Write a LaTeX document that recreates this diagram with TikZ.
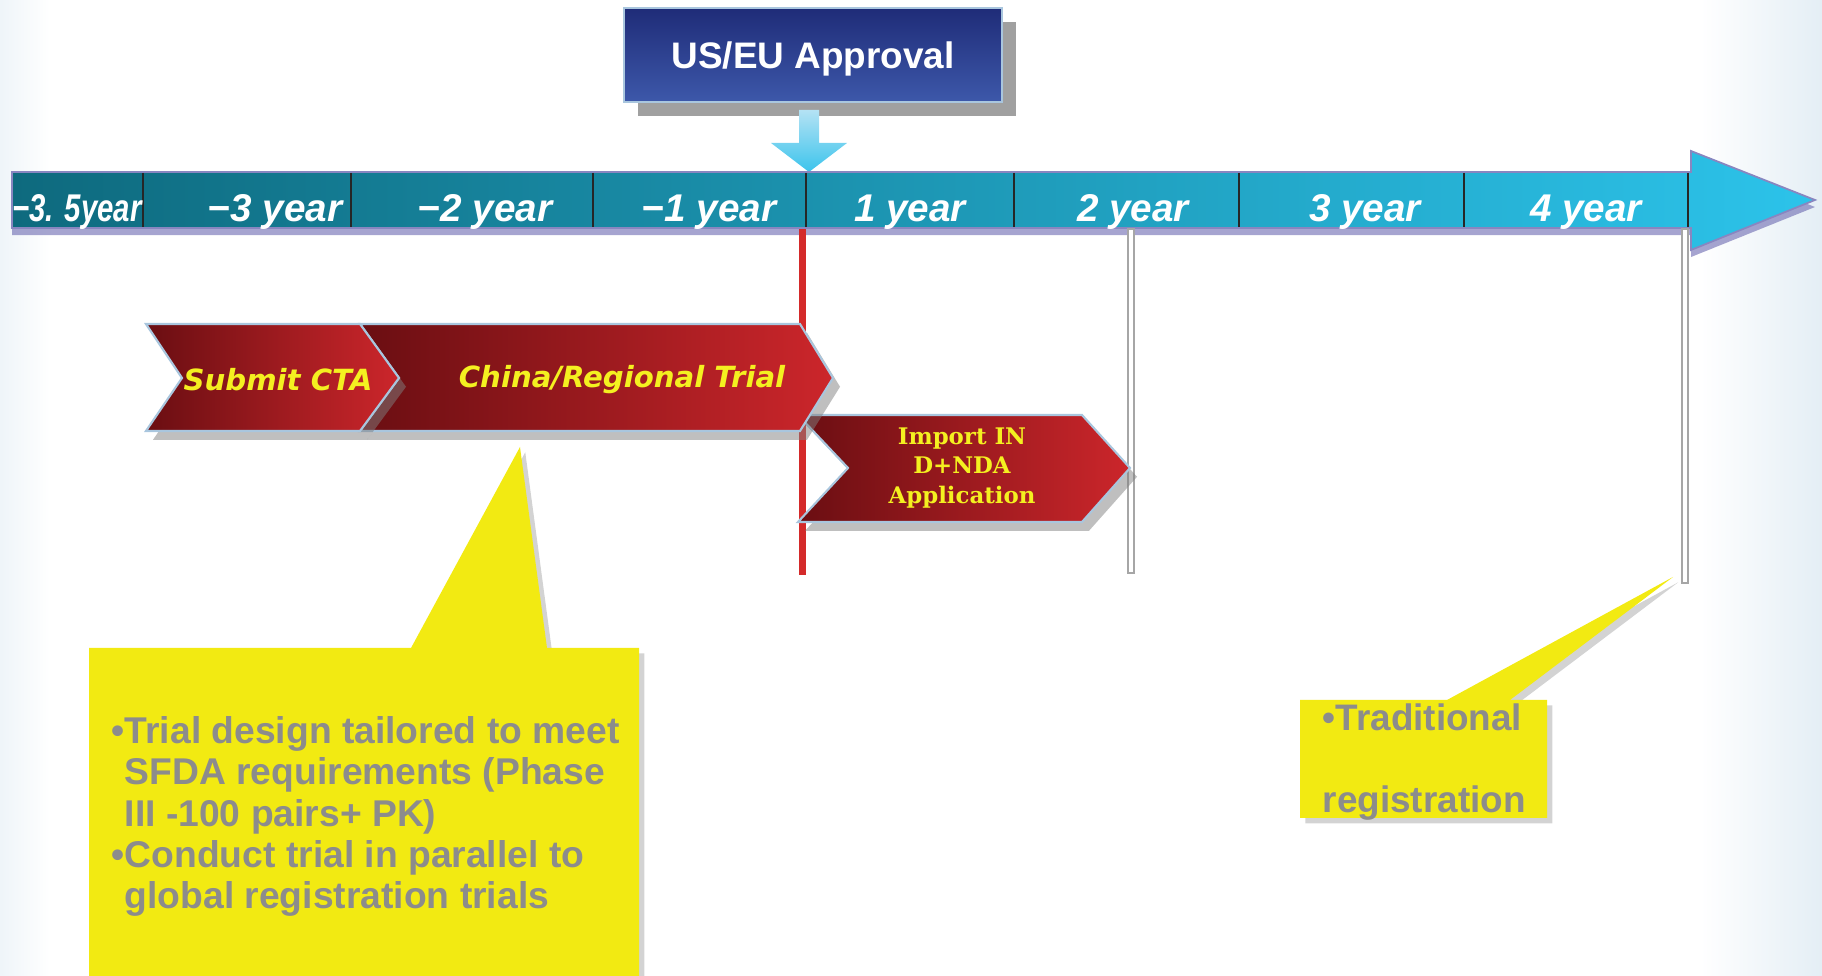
\documentclass[tikz,border=0pt]{standalone}
\usepackage{fontspec}
\setmainfont{Liberation Sans}
\newfontfamily\chevfont{DejaVu Sans}
\newfontfamily\impfont{DejaVu Serif}
\usetikzlibrary{shadows}
\definecolor{navytop}{HTML}{1F2C78}
\definecolor{navybot}{HTML}{3D58AA}
\definecolor{tealdark}{HTML}{0E6A7E}
\definecolor{cyanlite}{HTML}{2CC3EA}
\definecolor{reddark}{HTML}{6A0E12}
\definecolor{redlite}{HTML}{CC262B}
\definecolor{noteyellow}{HTML}{F2EA12}
\definecolor{notegray}{HTML}{8C8C8C}
\definecolor{chevtext}{HTML}{F4F020}
\definecolor{edgeblue}{HTML}{A9C6DE}
\definecolor{markred}{HTML}{D42A2A}
\definecolor{arrowtop}{HTML}{B4E2F4}
\definecolor{arrowbot}{HTML}{3CC4EC}
\definecolor{barshadow}{HTML}{6A68B0}
\definecolor{paleblue}{HTML}{E4EEF5}

\begin{document}
\begin{tikzpicture}[x=0.1mm,y=-0.1mm]
\useasboundingbox (0,0) rectangle (1822,976);
\begin{scope}
	\tikzstyle{every node}=[inner sep=0pt, align=center]
	\tikzstyle{chevron}=[left color=reddark, right color=redlite, draw=edgeblue, line width=0.6pt, drop shadow={shadow xshift=2pt, shadow yshift=-2.5pt, opacity=0.5}]
	\tikzstyle{yearlbl}=[text=white, font=\bfseries\itshape\fontsize{11}{13}\selectfont]
	\tikzstyle{chevlbl}=[text=chevtext, font=\chevfont\bfseries\itshape\fontsize{8.3}{10}\selectfont]
	\tikzstyle{note}=[fill=noteyellow, drop shadow={shadow xshift=1.5pt, shadow yshift=-1.5pt, opacity=0.35}]
	\tikzstyle{notetext}=[text=notegray, align=left, anchor=north west]
	\tikzstyle{yearline}=[draw=gray!70, fill=white, line width=0.5pt]

	\shade[left color=white, right color=paleblue] (1700,0) rectangle (1822,976);
	\shade[left color=paleblue!60, right color=white] (0,0) rectangle (50,976);

	\path[top color=navytop, bottom color=navybot, draw=edgeblue, line width=0.6pt, drop shadow={shadow xshift=4pt, shadow yshift=-4pt, opacity=0.75}] (624,8) rectangle (1002,102);
	\node[text=white, font=\bfseries\fontsize{10.5}{12}\selectfont] (approval) at (813,59) {US/EU Approval};
	\path[top color=arrowtop, bottom color=arrowbot] (799,110) -- (819,110) -- (819,143) -- (847,143) -- (809,172) -- (771,143) -- (799,143) -- cycle;

	\path[left color=tealdark, right color=cyanlite, draw=barshadow!80, line width=0.5pt, drop shadow={shadow xshift=0pt, shadow yshift=-2pt, fill=barshadow, opacity=0.6}] (12,172) -- (1691,172) -- (1691,151) -- (1815,200) -- (1691,250) -- (1691,228) -- (12,228) -- cycle;
	\foreach \sx in {143,351,593,806,1014,1239,1464,1688}
		\draw[black!85, line width=0.6pt] (\sx,173) -- (\sx,227);
	\node[yearlbl] (ym35) at (77,212) {\scalebox{0.76}[1]{−3. 5year}};
	\foreach \xp/\lab/\nm in {275/−3 year/ym3, 485/−2 year/ym2, 709/−1 year/ym1, 910/1 year/y1, 1133/2 year/y2, 1365/3 year/y3, 1586/4 year/y4}
		\node[yearlbl] (\nm) at (\xp,212) {\lab};

	\fill[markred] (799,229) rectangle (806,575);
	\path[yearline] (1128,229) rectangle (1134,573);
	\path[yearline] (1682,229) rectangle (1688,583);

	\path[chevron] (798,415) -- (1082,415) -- (1130,468) -- (1082,522) -- (798,522) -- (848,468) -- cycle;
	\path[chevron] (360,324) -- (800,324) -- (833,378) -- (800,431) -- (360,431) -- (399,378) -- cycle;
	\path[chevron] (146,324) -- (360,324) -- (399,378) -- (360,431) -- (146,431) -- (182,378) -- cycle;
	\node[chevlbl] (cta) at (278,380) {Submit CTA};
	\node[chevlbl] (trial) at (622,380) {China/Regional Trial};
	\node[text=chevtext, font=\impfont\bfseries\fontsize{6.5}{8.4}\selectfont] (import) at (962,468) {Import IN\\D+NDA\\Application};

	\path[note] (89,648) -- (411,648) -- (520,447) -- (547,648) -- (639,648) -- (639,976) -- (89,976) -- cycle;
	\node[notetext, font=\bfseries\fontsize{10.6}{11.75}\selectfont] (design) at (111,716) {•Trial design tailored to meet\\\phantom{•}SFDA requirements (Phase\\\phantom{•}III -100 pairs+ PK)\\•Conduct trial in parallel to\\\phantom{•}global registration trials};

	\path[note] (1300,700) -- (1447,700) -- (1673,577) -- (1510,700) -- (1547,700) -- (1547,818) -- (1300,818) -- cycle;
	\node[notetext, font=\bfseries\fontsize{10.5}{23.3}\selectfont] (tradition) at (1322,703) {•Traditional\\registration};
\end{scope}
\end{tikzpicture}
\end{document}
